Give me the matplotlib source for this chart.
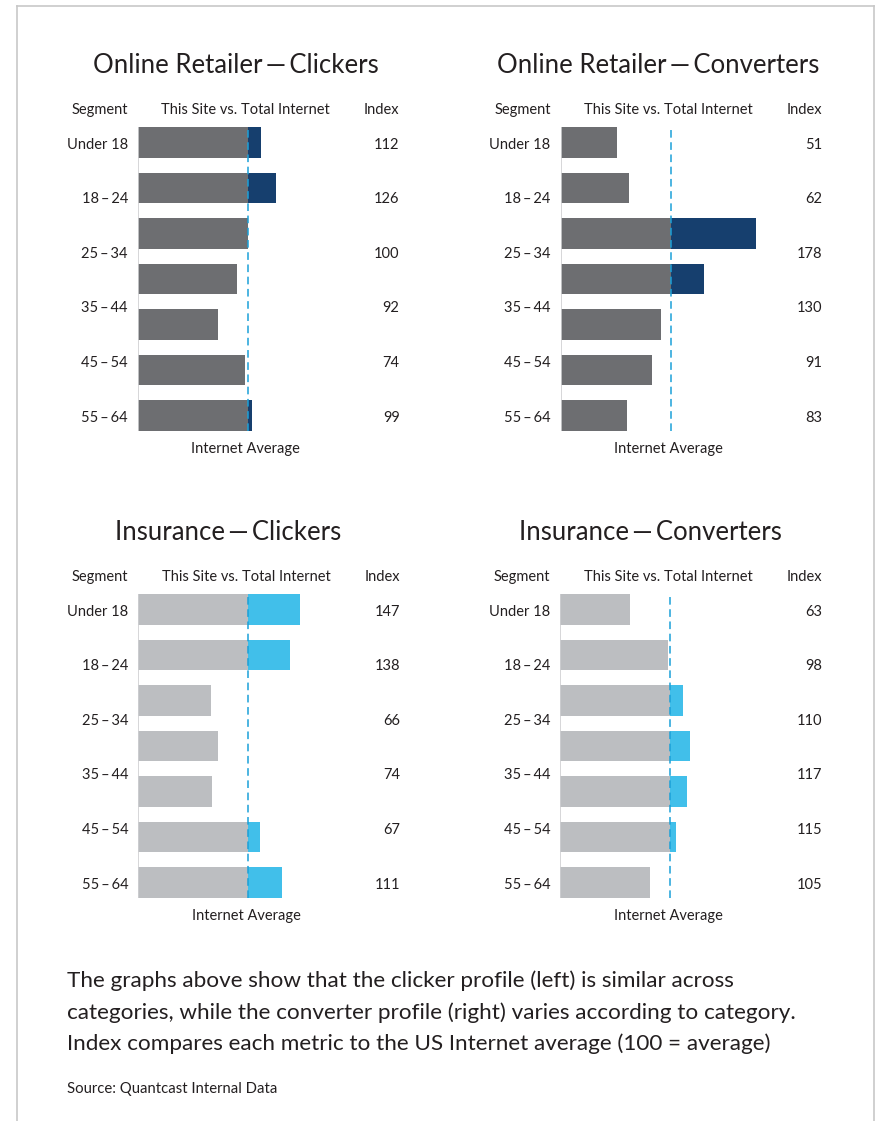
import matplotlib
matplotlib.use('Agg')
import matplotlib.pyplot as plt
from matplotlib.lines import Line2D
import numpy as np

W, H = 875, 1121
plt.rcParams['font.family'] = ['Lato', 'DejaVu Sans']

segments = ['Under 18', '18\u2009–\u200924', '25\u2009–\u200934', '35\u2009–\u200944',
            '45\u2009–\u200954', '55\u2009–\u200964']

titles = ['Online Retailer\u2009—\u2009Clickers', 'Online Retailer\u2009—\u2009Converters',
          'Insurance\u2009—\u2009Clickers', 'Insurance\u2009—\u2009Converters']

# bar lengths as drawn (7 bars per panel in the original graphic)
retail_clickers_bars = [112, 126, 100, 90, 73, 97.5, 104]
retail_converters_bars = [51, 62, 178, 130, 91, 83, 60]
insurance_clickers_bars = [147, 138, 66, 72.5, 67, 111, 131]
insurance_converters_bars = [63, 98, 111, 118, 115, 105, 81.5]

# index column text
retail_clickers_index = [112, 126, 100, 92, 74, 99]
retail_converters_index = [51, 62, 178, 130, 91, 83]
insurance_clickers_index = [147, 138, 66, 74, 67, 111]
insurance_converters_index = [63, 98, 110, 117, 115, 105]

bars_all = [retail_clickers_bars, retail_converters_bars,
            insurance_clickers_bars, insurance_converters_bars]
index_all = [retail_clickers_index, retail_converters_index,
             insurance_clickers_index, insurance_converters_index]

base_colors = ['#6d6e71', '#6d6e71', '#bcbec1', '#bcbec1']
over_colors = ['#163f6e', '#163f6e', '#41bfea', '#41bfea']
text_color = '#231f20'
dash_color = '#1ba0d8'

# panel layout in pixels: (left of bar baseline, center of first bar)
panel_pos = [(137.8, 142.5), (560.5, 142.5), (138.3, 609.5), (560.4, 609.5)]
title_x = [89, 89, 82, 82]
row_px = 45.5
px_per_unit = 1.1
bar_h = 0.675
dy = 0.045  # small downward nudge for text baselines

fig = plt.figure(figsize=(W / 100, H / 100), dpi=100)
fig.patch.set_facecolor('white')

for k in range(4):
    left_px, first_px = panel_pos[k]
    top_px = first_px - (bar_h / 2) * row_px
    bot_px = first_px + (6 + bar_h / 2) * row_px
    ax = fig.add_axes([left_px / W, 1 - bot_px / H,
                       200 * px_per_unit / W, (bot_px - top_px) / H])
    ax.set_xlim(0, 200)
    ax.set_ylim(6 + bar_h / 2, -bar_h / 2)
    ax.axis('off')

    vals = np.array(bars_all[k], dtype=float)
    ypos = np.arange(len(vals))
    base = np.minimum(vals, 100)
    over = np.clip(vals - 100, 0, None)
    ax.barh(ypos, base, height=bar_h, color=base_colors[k], zorder=2)
    ax.barh(ypos, over, left=100, height=bar_h, color=over_colors[k], zorder=2)
    ax.axvline(0, color='#cfd0d2', lw=1.2, zorder=3)
    ax.axvline(100, color=dash_color, lw=1.1, ls=(0, (5, 3)), zorder=4)

    label_y = np.linspace(0, 6, len(segments)) + dy
    for j, seg in enumerate(segments):
        ax.text(-9, label_y[j], seg, ha='right', va='center', fontsize=10.5,
                color=text_color, clip_on=False)
        ax.text(238, label_y[j], str(index_all[k][j]), ha='right', va='center',
                fontsize=10.5, color=text_color, clip_on=False)

    ax.text(-9, -0.76 + dy, 'Segment', ha='right', va='center', fontsize=10.5,
            color=text_color, clip_on=False)
    ax.text(98, -0.76 + dy, 'This Site vs. Total Internet', ha='center', va='center',
            fontsize=10.5, color=text_color, clip_on=False)
    ax.text(238, -0.76 + dy, 'Index', ha='right', va='center', fontsize=10.5,
            color=text_color, clip_on=False)
    ax.text(98, 6.7 + dy, 'Internet Average', ha='center', va='center', fontsize=10.5,
            color=text_color, clip_on=False)
    ax.text(title_x[k], -1.74 + dy, titles[k], ha='center', va='center', fontsize=18.5,
            color=text_color, clip_on=False)

body = ['The graphs above show that the clicker profile (left) is similar across',
        'categories, while the converter profile (right) varies according to category.',
        'Index compares each metric to the US Internet average (100 = average)']
for i, line in enumerate(body):
    fig.text(67 / W, 1 - (981 + 31.5 * i) / H, line, ha='left', va='center',
             fontsize=16.2, color=text_color)
fig.text(67 / W, 1 - 1089 / H, 'Source: Quantcast Internal Data', ha='left',
         va='center', fontsize=10.7, color=text_color)

# page frame
frame = '#c8c8c8'
fig.add_artist(Line2D([16.7 / W, 16.7 / W], [0, 1 - 6 / H], color=frame, lw=1.2,
                      transform=fig.transFigure))
fig.add_artist(Line2D([16.7 / W, 874 / W], [1 - 6 / H, 1 - 6 / H], color=frame,
                      lw=1.2, transform=fig.transFigure))
fig.add_artist(Line2D([874 / W, 874 / W], [0, 1 - 6 / H], color=frame, lw=1.2,
                      transform=fig.transFigure))

fig.savefig('out.png', dpi=100, facecolor='white')
